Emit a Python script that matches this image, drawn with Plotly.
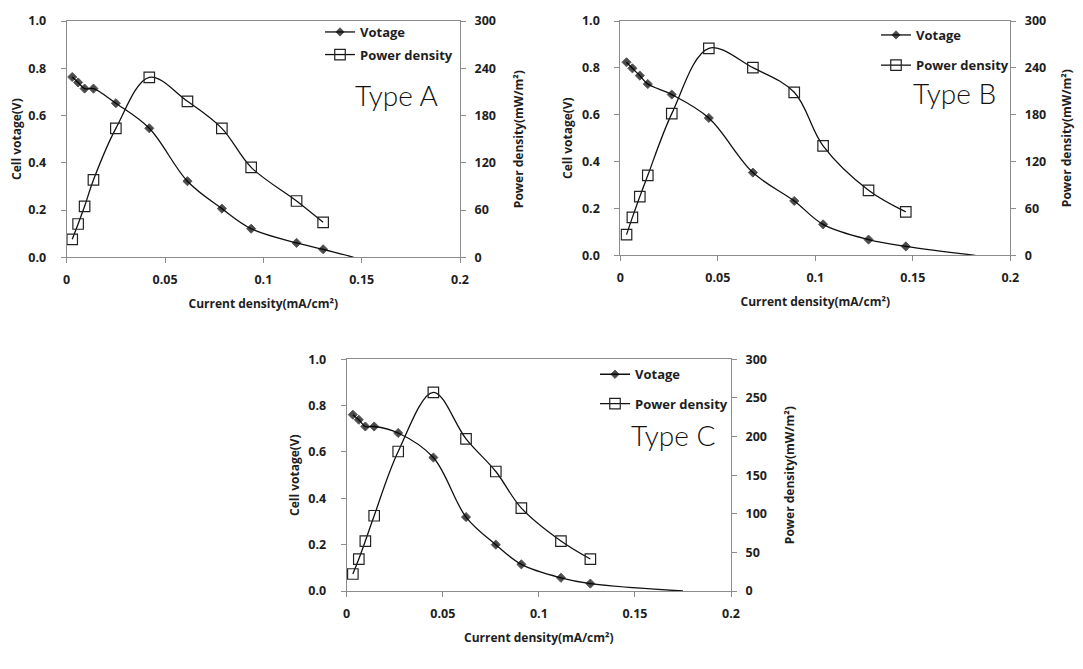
import plotly.graph_objects as go

# ---------------- data ----------------
# Type A
a_current = [0.0028, 0.0058, 0.0091, 0.0136, 0.0250, 0.0420, 0.0614, 0.0789, 0.0938, 0.1169, 0.1304]
a_voltage = [0.763, 0.740, 0.714, 0.714, 0.652, 0.546, 0.322, 0.206, 0.121, 0.061, 0.034]
a_power = [22.8, 42.3, 64.7, 98.2, 163.7, 228.5, 198.0, 163.7, 114.2, 71.5, 44.4]
a_end_current = 0.146
# Type B
b_current = [0.0032, 0.0062, 0.0100, 0.0141, 0.0264, 0.0454, 0.0680, 0.0892, 0.1040, 0.1273, 0.1464]
b_voltage = [0.824, 0.798, 0.767, 0.731, 0.686, 0.586, 0.353, 0.232, 0.132, 0.067, 0.038]
b_power = [26.5, 48.6, 75.1, 102.4, 181.4, 265.0, 240.3, 208.7, 140.0, 83.2, 55.5]
b_end_current = 0.182
# Type C
c_current = [0.0032, 0.0063, 0.0097, 0.0143, 0.0268, 0.0451, 0.0621, 0.0776, 0.0909, 0.1115, 0.1268]
c_voltage = [0.761, 0.739, 0.710, 0.710, 0.682, 0.576, 0.319, 0.200, 0.115, 0.057, 0.032]
c_power = [22.0, 41.4, 64.7, 97.4, 180.6, 257.3, 197.0, 154.7, 107.3, 64.7, 41.4]
c_end_current = 0.175

panel_names = ["Type A", "Type B", "Type C"]
x_ticks = [0, 0.05, 0.1, 0.15, 0.2]
x_tick_text = ["0", "0.05", "0.1", "0.15", "0.2"]
v_ticks = [0.0, 0.2, 0.4, 0.6, 0.8, 1.0]
p_dticks = [60, 60, 50]

# page body has an 8px margin: figure is drawn 8px in from the window edge
OFF = 8
W, H = 1083 - 2 * OFF, 669 - 2 * OFF
FONT = "Open Sans"
TXT = "#1e1e1e"
AX = "#8c8c8c"

# panel boxes in window pixels: left, right, top, bottom
boxes = [(66.7, 460.0, 21.0, 257.3),
         (620.3, 1010.3, 21.0, 255.3),
         (346.7, 731.0, 359.3, 591.0)]
# legend (text start x, first item centre y, item spacing) and label centres
legend_pos = [(362, 31, 21.7), (918, 34, 29.3), (637, 373.3, 28.4)]
label_pos = [(396, 95), (955, 92.7), (673, 435)]


def px(x):
    return (x - OFF) / W


def py(y):
    return 1 - (y - OFF) / H


datasets = [(a_current, a_voltage, a_power, a_end_current),
            (b_current, b_voltage, b_power, b_end_current),
            (c_current, c_voltage, c_power, c_end_current)]

fig = go.Figure()
layout = dict(width=W, height=H, margin=dict(l=0, r=0, t=0, b=0, autoexpand=False),
              paper_bgcolor="white", plot_bgcolor="white", showlegend=True,
              font=dict(family=FONT, color=TXT))
annotations = []

for i, (cur, volt, pw, end_c) in enumerate(datasets):
    xa = "x" if i == 0 else f"x{i+1}"
    ya_l = "y" if i == 0 else f"y{2*i+1}"
    ya_r = f"y{2*i+2}"
    leg = "legend" if i == 0 else f"legend{i+1}"
    l, r, t, b = boxes[i]
    xdom = [px(l), px(r)]
    ydom = [py(b), py(t)]

    vx = list(cur) + [end_c]
    vy = list(volt) + [0.0]
    sizes = [7] * len(cur) + [0]
    fig.add_trace(go.Scatter(
        x=vx, y=vy, name="Votage", mode="lines+markers",
        line=dict(color="#111111", width=1.3, shape="spline", smoothing=1.0),
        marker=dict(symbol="diamond", size=sizes, color="#000000"),
        xaxis=xa, yaxis=ya_l, legend=leg, legendgroup=f"v{i}"))
    fig.add_trace(go.Scatter(
        x=cur, y=pw, name="Power density", mode="lines+markers",
        line=dict(color="#111111", width=1.3, shape="spline", smoothing=1.0),
        marker=dict(symbol="square-open", size=10.5, color="#222222",
                    line=dict(width=1.2, color="#222222")),
        xaxis=xa, yaxis=ya_r, legend=leg, legendgroup=f"p{i}"))

    tickfont = dict(family=FONT, size=12.5, color=TXT, weight="bold")
    titlefont = dict(family=FONT, size=12, color=TXT, weight="bold")
    xkey = "xaxis" if i == 0 else f"xaxis{i+1}"
    ylkey = "yaxis" if i == 0 else f"yaxis{2*i+1}"
    yrkey = f"yaxis{2*i+2}"
    layout[xkey] = dict(domain=xdom, anchor=ya_l, range=[0, 0.2], automargin=False,
                        tickvals=x_ticks, ticktext=x_tick_text,
                        showgrid=False, zeroline=False, showline=True,
                        linecolor=AX, linewidth=1, mirror=True,
                        ticks="outside", ticklen=5, tickcolor=AX,
                        tickfont=tickfont, ticklabelstandoff=6,
                        title=dict(text="Current density(mA/cm²)", font=titlefont,
                                   standoff=12))
    layout[ylkey] = dict(domain=ydom, anchor=xa, range=[0, 1], automargin=False,
                         tickvals=v_ticks, tickformat=".1f",
                         showgrid=False, zeroline=False, showline=True,
                         linecolor=AX, linewidth=1,
                         ticks="outside", ticklen=5, tickcolor=AX,
                         tickfont=tickfont, ticklabelstandoff=12,
                         title=dict(text="Cell votage(V)", font=titlefont, standoff=6))
    layout[yrkey] = dict(domain=ydom, anchor=xa, overlaying=ya_l, side="right",
                         range=[0, 300], dtick=p_dticks[i], tick0=0, automargin=False,
                         showgrid=False, zeroline=False, showline=True,
                         linecolor=AX, linewidth=1,
                         ticks="outside", ticklen=5, tickcolor=AX,
                         tickfont=tickfont, ticklabelstandoff=6,
                         title=dict(text="Power density(mW/m²)", font=titlefont, standoff=19))

    tx, ty, gap = legend_pos[i]
    layout[leg] = dict(x=px(tx - 42), y=py(ty - 14), xanchor="left", yanchor="top",
                       bgcolor="rgba(0,0,0,0)", traceorder="grouped",
                       tracegroupgap=max(gap - 19, 0),
                       font=dict(family=FONT, size=13, color=TXT, weight="bold"),
                       itemwidth=30)
    lx, ly = label_pos[i]
    annotations.append(dict(text=panel_names[i], x=px(lx), y=py(ly),
                            xref="paper", yref="paper", showarrow=False,
                            xanchor="center", yanchor="middle",
                            font=dict(family="Lato", size=28, color="#111111", weight=300)))

layout["annotations"] = annotations
fig.update_layout(**layout)
fig.write_html("out.html")
